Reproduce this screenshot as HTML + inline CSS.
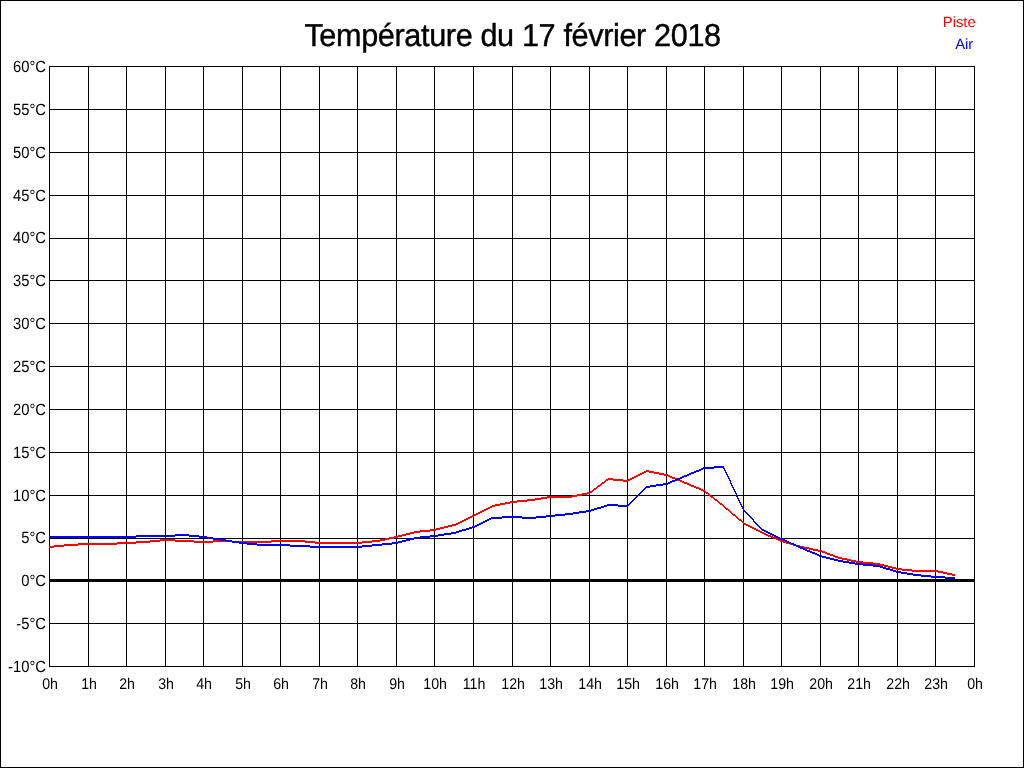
<!DOCTYPE html>
<html><head><meta charset="utf-8"><title>Température du 17 février 2018</title>
<style>
html,body{margin:0;padding:0;background:#fff;}
body{width:1024px;height:768px;position:relative;overflow:hidden;font-family:"Liberation Sans",sans-serif;color:#000;}
#frame{position:absolute;left:0;top:0;width:1022px;height:766px;border:1px solid #000;}
svg{position:absolute;left:0;top:0;}
#txt{position:absolute;left:0;top:0;width:1024px;height:768px;will-change:transform;transform:translateZ(0);-webkit-font-smoothing:antialiased;text-rendering:geometricPrecision;}
.t{position:absolute;left:304px;top:16px;font-size:30.67px;letter-spacing:-0.38px;line-height:40px;white-space:nowrap;transform:translate(0.4px,0) scaleY(1.035);transform-origin:0 30px;-webkit-text-stroke:0.4px #000;}
.yl{position:absolute;left:0;width:46px;text-align:right;font-size:14.8px;line-height:20px;height:20px;white-space:nowrap;transform:scaleY(1.1);transform-origin:50% 50%;}
.xl{position:absolute;top:675px;width:60px;text-align:center;font-size:14.2px;line-height:20px;white-space:nowrap;transform:translate(1.1px,0) scaleY(1.09);transform-origin:50% 14px;}
.lg{position:absolute;text-align:right;font-size:14.8px;line-height:20px;white-space:nowrap;transform-origin:50% 15px;}
</style></head><body>
<div id="frame"></div>
<svg width="1024" height="768" viewBox="0 0 1024 768" shape-rendering="crispEdges">
<path d="M49 66h926v1h-926zM49 109h926v1h-926zM49 152h926v1h-926zM49 195h926v1h-926zM49 238h926v1h-926zM49 280h926v1h-926zM49 323h926v1h-926zM49 366h926v1h-926zM49 409h926v1h-926zM49 452h926v1h-926zM49 495h926v1h-926zM49 538h926v1h-926zM49 579h926v3h-926zM49 623h926v1h-926zM49 666h926v1h-926zM49 66h1v601h-1zM88 66h1v601h-1zM126 66h1v601h-1zM165 66h1v601h-1zM203 66h1v601h-1zM242 66h1v601h-1zM280 66h1v601h-1zM319 66h1v601h-1zM357 66h1v601h-1zM396 66h1v601h-1zM434 66h1v601h-1zM473 66h1v601h-1zM512 66h1v601h-1zM550 66h1v601h-1zM589 66h1v601h-1zM627 66h1v601h-1zM666 66h1v601h-1zM704 66h1v601h-1zM743 66h1v601h-1zM781 66h1v601h-1zM820 66h1v601h-1zM858 66h1v601h-1zM897 66h1v601h-1zM935 66h1v601h-1zM974 66h1v601h-1z" fill="#000"/>
<path d="M646 470h3v1h-3zM644 471h10v1h-10zM642 472h4v1h-4zM649 472h10v1h-10zM640 473h4v1h-4zM654 473h10v1h-10zM638 474h4v1h-4zM659 474h9v1h-9zM636 475h4v1h-4zM664 475h6v1h-6zM634 476h4v1h-4zM668 476h4v1h-4zM632 477h4v1h-4zM670 477h5v1h-5zM608 478h5v1h-5zM630 478h4v1h-4zM672 478h5v1h-5zM606 479h17v1h-17zM628 479h4v1h-4zM675 479h5v1h-5zM605 480h3v1h-3zM613 480h17v1h-17zM677 480h5v1h-5zM604 481h2v1h-2zM623 481h5v1h-5zM680 481h4v1h-4zM602 482h3v1h-3zM682 482h5v1h-5zM601 483h3v1h-3zM684 483h5v1h-5zM600 484h2v1h-2zM687 484h4v1h-4zM598 485h3v1h-3zM689 485h5v1h-5zM597 486h3v1h-3zM691 486h5v1h-5zM596 487h2v1h-2zM694 487h5v1h-5zM594 488h3v1h-3zM696 488h5v1h-5zM593 489h3v1h-3zM699 489h4v1h-4zM592 490h2v1h-2zM701 490h4v1h-4zM590 491h3v1h-3zM703 491h3v1h-3zM587 492h5v1h-5zM705 492h3v1h-3zM582 493h8v1h-8zM706 493h3v1h-3zM577 494h10v1h-10zM708 494h2v1h-2zM572 495h10v1h-10zM709 495h2v1h-2zM547 496h30v1h-30zM710 496h3v1h-3zM541 497h31v1h-31zM711 497h3v1h-3zM535 498h12v1h-12zM713 498h2v1h-2zM527 499h14v1h-14zM714 499h3v1h-3zM517 500h18v1h-18zM715 500h3v1h-3zM510 501h17v1h-17zM717 501h2v1h-2zM505 502h12v1h-12zM718 502h2v1h-2zM500 503h10v1h-10zM719 503h3v1h-3zM495 504h10v1h-10zM720 504h3v1h-3zM492 505h8v1h-8zM722 505h2v1h-2zM490 506h5v1h-5zM723 506h2v1h-2zM488 507h4v1h-4zM724 507h2v1h-2zM486 508h4v1h-4zM725 508h3v1h-3zM484 509h4v1h-4zM726 509h3v1h-3zM482 510h4v1h-4zM728 510h2v1h-2zM480 511h4v1h-4zM729 511h2v1h-2zM478 512h4v1h-4zM730 512h2v1h-2zM476 513h4v1h-4zM731 513h2v1h-2zM474 514h4v1h-4zM732 514h3v1h-3zM472 515h4v1h-4zM733 515h3v1h-3zM470 516h4v1h-4zM735 516h2v1h-2zM468 517h4v1h-4zM736 517h2v1h-2zM466 518h4v1h-4zM737 518h2v1h-2zM464 519h4v1h-4zM738 519h3v1h-3zM462 520h4v1h-4zM739 520h3v1h-3zM460 521h4v1h-4zM741 521h2v1h-2zM458 522h4v1h-4zM742 522h2v1h-2zM456 523h4v1h-4zM743 523h3v1h-3zM452 524h6v1h-6zM744 524h4v1h-4zM448 525h8v1h-8zM746 525h4v1h-4zM444 526h8v1h-8zM748 526h4v1h-4zM440 527h8v1h-8zM750 527h4v1h-4zM436 528h8v1h-8zM752 528h4v1h-4zM430 529h10v1h-10zM754 529h4v1h-4zM420 530h16v1h-16zM756 530h4v1h-4zM414 531h16v1h-16zM758 531h4v1h-4zM410 532h10v1h-10zM760 532h4v1h-4zM406 533h8v1h-8zM762 533h4v1h-4zM402 534h8v1h-8zM764 534h4v1h-4zM398 535h8v1h-8zM766 535h5v1h-5zM394 536h8v1h-8zM768 536h5v1h-5zM389 537h9v1h-9zM771 537h5v1h-5zM385 538h9v1h-9zM773 538h5v1h-5zM160 539h15v1h-15zM380 539h9v1h-9zM776 539h4v1h-4zM150 540h44v1h-44zM213 540h19v1h-19zM271 540h34v1h-34zM372 540h13v1h-13zM778 540h5v1h-5zM136 541h24v1h-24zM175 541h140v1h-140zM362 541h18v1h-18zM780 541h6v1h-6zM117 542h33v1h-33zM194 542h19v1h-19zM232 542h39v1h-39zM305 542h67v1h-67zM783 542h7v1h-7zM78 543h58v1h-58zM315 543h47v1h-47zM786 543h7v1h-7zM64 544h53v1h-53zM790 544h6v1h-6zM54 545h24v1h-24zM793 545h7v1h-7zM49 546h15v1h-15zM796 546h8v1h-8zM49 547h5v1h-5zM800 547h9v1h-9zM804 548h9v1h-9zM809 549h9v1h-9zM813 550h9v1h-9zM818 551h7v1h-7zM822 552h5v1h-5zM825 553h5v1h-5zM827 554h6v1h-6zM830 555h5v1h-5zM833 556h5v1h-5zM835 557h7v1h-7zM838 558h9v1h-9zM842 559h9v1h-9zM847 560h9v1h-9zM851 561h12v1h-12zM856 562h17v1h-17zM863 563h17v1h-17zM873 564h11v1h-11zM880 565h8v1h-8zM884 566h8v1h-8zM888 567h8v1h-8zM892 568h10v1h-10zM896 569h16v1h-16zM902 570h36v1h-36zM912 571h31v1h-31zM938 572h9v1h-9zM943 573h9v1h-9zM947 574h8v1h-8zM952 575h3v1h-3z" fill="#f00"/>
<path d="M714 466h10v1h-10zM703 467h21v1h-21zM701 468h13v1h-13zM723 468h2v1h-2zM699 469h4v1h-4zM724 469h1v1h-1zM696 470h5v1h-5zM724 470h2v1h-2zM694 471h5v1h-5zM725 471h1v1h-1zM691 472h5v1h-5zM725 472h2v1h-2zM689 473h5v1h-5zM726 473h1v1h-1zM687 474h4v1h-4zM726 474h2v1h-2zM684 475h5v1h-5zM727 475h1v1h-1zM682 476h5v1h-5zM727 476h2v1h-2zM680 477h4v1h-4zM728 477h1v1h-1zM677 478h5v1h-5zM728 478h2v1h-2zM675 479h5v1h-5zM729 479h1v1h-1zM672 480h5v1h-5zM729 480h2v1h-2zM670 481h5v1h-5zM730 481h1v1h-1zM668 482h4v1h-4zM730 482h1v1h-1zM663 483h7v1h-7zM730 483h2v1h-2zM656 484h12v1h-12zM731 484h1v1h-1zM650 485h13v1h-13zM731 485h2v1h-2zM646 486h10v1h-10zM732 486h1v1h-1zM645 487h5v1h-5zM732 487h2v1h-2zM644 488h2v1h-2zM733 488h1v1h-1zM643 489h2v1h-2zM733 489h2v1h-2zM642 490h2v1h-2zM734 490h1v1h-1zM641 491h2v1h-2zM734 491h2v1h-2zM640 492h2v1h-2zM735 492h1v1h-1zM639 493h2v1h-2zM735 493h2v1h-2zM638 494h2v1h-2zM736 494h1v1h-1zM637 495h2v1h-2zM736 495h1v1h-1zM636 496h2v1h-2zM736 496h2v1h-2zM635 497h2v1h-2zM737 497h1v1h-1zM634 498h2v1h-2zM737 498h2v1h-2zM633 499h2v1h-2zM738 499h1v1h-1zM632 500h2v1h-2zM738 500h2v1h-2zM631 501h2v1h-2zM739 501h1v1h-1zM630 502h2v1h-2zM739 502h2v1h-2zM629 503h2v1h-2zM740 503h1v1h-1zM607 504h11v1h-11zM628 504h2v1h-2zM740 504h2v1h-2zM604 505h25v1h-25zM741 505h1v1h-1zM601 506h6v1h-6zM618 506h10v1h-10zM741 506h2v1h-2zM597 507h7v1h-7zM742 507h1v1h-1zM594 508h7v1h-7zM742 508h2v1h-2zM591 509h6v1h-6zM743 509h1v1h-1zM586 510h8v1h-8zM743 510h2v1h-2zM579 511h12v1h-12zM744 511h2v1h-2zM573 512h13v1h-13zM745 512h2v1h-2zM565 513h14v1h-14zM746 513h2v1h-2zM555 514h18v1h-18zM747 514h2v1h-2zM546 515h19v1h-19zM748 515h2v1h-2zM502 516h20v1h-20zM536 516h19v1h-19zM749 516h2v1h-2zM491 517h55v1h-55zM750 517h2v1h-2zM489 518h13v1h-13zM522 518h14v1h-14zM751 518h2v1h-2zM487 519h4v1h-4zM752 519h2v1h-2zM485 520h4v1h-4zM753 520h1v1h-1zM483 521h4v1h-4zM753 521h2v1h-2zM481 522h4v1h-4zM754 522h2v1h-2zM479 523h4v1h-4zM755 523h2v1h-2zM477 524h4v1h-4zM756 524h2v1h-2zM475 525h4v1h-4zM757 525h2v1h-2zM472 526h5v1h-5zM758 526h2v1h-2zM469 527h6v1h-6zM759 527h2v1h-2zM466 528h6v1h-6zM760 528h2v1h-2zM462 529h7v1h-7zM761 529h3v1h-3zM459 530h7v1h-7zM762 530h4v1h-4zM456 531h6v1h-6zM764 531h4v1h-4zM451 532h8v1h-8zM766 532h4v1h-4zM444 533h12v1h-12zM768 533h4v1h-4zM175 534h14v1h-14zM438 534h13v1h-13zM770 534h4v1h-4zM136 535h63v1h-63zM430 535h14v1h-14zM772 535h4v1h-4zM49 536h126v1h-126zM189 536h18v1h-18zM420 536h18v1h-18zM774 536h4v1h-4zM49 537h87v1h-87zM199 537h14v1h-14zM414 537h16v1h-16zM776 537h4v1h-4zM207 538h12v1h-12zM410 538h10v1h-10zM778 538h5v1h-5zM213 539h13v1h-13zM406 539h8v1h-8zM780 539h5v1h-5zM219 540h13v1h-13zM402 540h8v1h-8zM783 540h4v1h-4zM226 541h13v1h-13zM398 541h8v1h-8zM785 541h4v1h-4zM232 542h15v1h-15zM392 542h10v1h-10zM787 542h4v1h-4zM239 543h18v1h-18zM382 543h16v1h-16zM789 543h5v1h-5zM247 544h43v1h-43zM372 544h20v1h-20zM791 544h5v1h-5zM257 545h53v1h-53zM362 545h20v1h-20zM794 545h4v1h-4zM290 546h82v1h-82zM796 546h4v1h-4zM310 547h52v1h-52zM798 547h5v1h-5zM800 548h5v1h-5zM803 549h4v1h-4zM805 550h5v1h-5zM807 551h5v1h-5zM810 552h5v1h-5zM812 553h5v1h-5zM815 554h4v1h-4zM817 555h5v1h-5zM819 556h7v1h-7zM822 557h8v1h-8zM826 558h8v1h-8zM830 559h8v1h-8zM834 560h9v1h-9zM838 561h11v1h-11zM843 562h12v1h-12zM849 563h14v1h-14zM855 564h18v1h-18zM863 565h17v1h-17zM873 566h10v1h-10zM880 567h6v1h-6zM883 568h7v1h-7zM886 569h7v1h-7zM890 570h6v1h-6zM893 571h8v1h-8zM896 572h11v1h-11zM901 573h12v1h-12zM907 574h14v1h-14zM913 575h18v1h-18zM921 576h24v1h-24zM931 577h24v1h-24zM945 578h10v1h-10z" fill="#00f"/>
</svg>
<div id="txt">
<div class="t">Température du 17 février 2018</div>
<div class="lg" style="top:13px;right:47px;color:#f00;transform:translate(-1.3px,0)">Piste</div>
<div class="lg" style="top:35px;right:50px;color:#00f;transform:translate(-0.7px,0)">Air</div>
<div class="yl" style="top:58px">60°C</div>
<div class="yl" style="top:101px">55°C</div>
<div class="yl" style="top:144px">50°C</div>
<div class="yl" style="top:187px">45°C</div>
<div class="yl" style="top:229px">40°C</div>
<div class="yl" style="top:272px">35°C</div>
<div class="yl" style="top:315px">30°C</div>
<div class="yl" style="top:358px">25°C</div>
<div class="yl" style="top:401px">20°C</div>
<div class="yl" style="top:444px">15°C</div>
<div class="yl" style="top:487px">10°C</div>
<div class="yl" style="top:529px">5°C</div>
<div class="yl" style="top:572px">0°C</div>
<div class="yl" style="top:615px">-5°C</div>
<div class="yl" style="top:658px">-10°C</div>
<div class="xl" style="left:19px">0h</div>
<div class="xl" style="left:58px">1h</div>
<div class="xl" style="left:96px">2h</div>
<div class="xl" style="left:135px">3h</div>
<div class="xl" style="left:173px">4h</div>
<div class="xl" style="left:212px">5h</div>
<div class="xl" style="left:250px">6h</div>
<div class="xl" style="left:289px">7h</div>
<div class="xl" style="left:327px">8h</div>
<div class="xl" style="left:366px">9h</div>
<div class="xl" style="left:404px">10h</div>
<div class="xl" style="left:443px">11h</div>
<div class="xl" style="left:482px">12h</div>
<div class="xl" style="left:520px">13h</div>
<div class="xl" style="left:559px">14h</div>
<div class="xl" style="left:597px">15h</div>
<div class="xl" style="left:636px">16h</div>
<div class="xl" style="left:674px">17h</div>
<div class="xl" style="left:713px">18h</div>
<div class="xl" style="left:751px">19h</div>
<div class="xl" style="left:790px">20h</div>
<div class="xl" style="left:828px">21h</div>
<div class="xl" style="left:867px">22h</div>
<div class="xl" style="left:905px">23h</div>
<div class="xl" style="left:944px">0h</div>
</div>
</body></html>
